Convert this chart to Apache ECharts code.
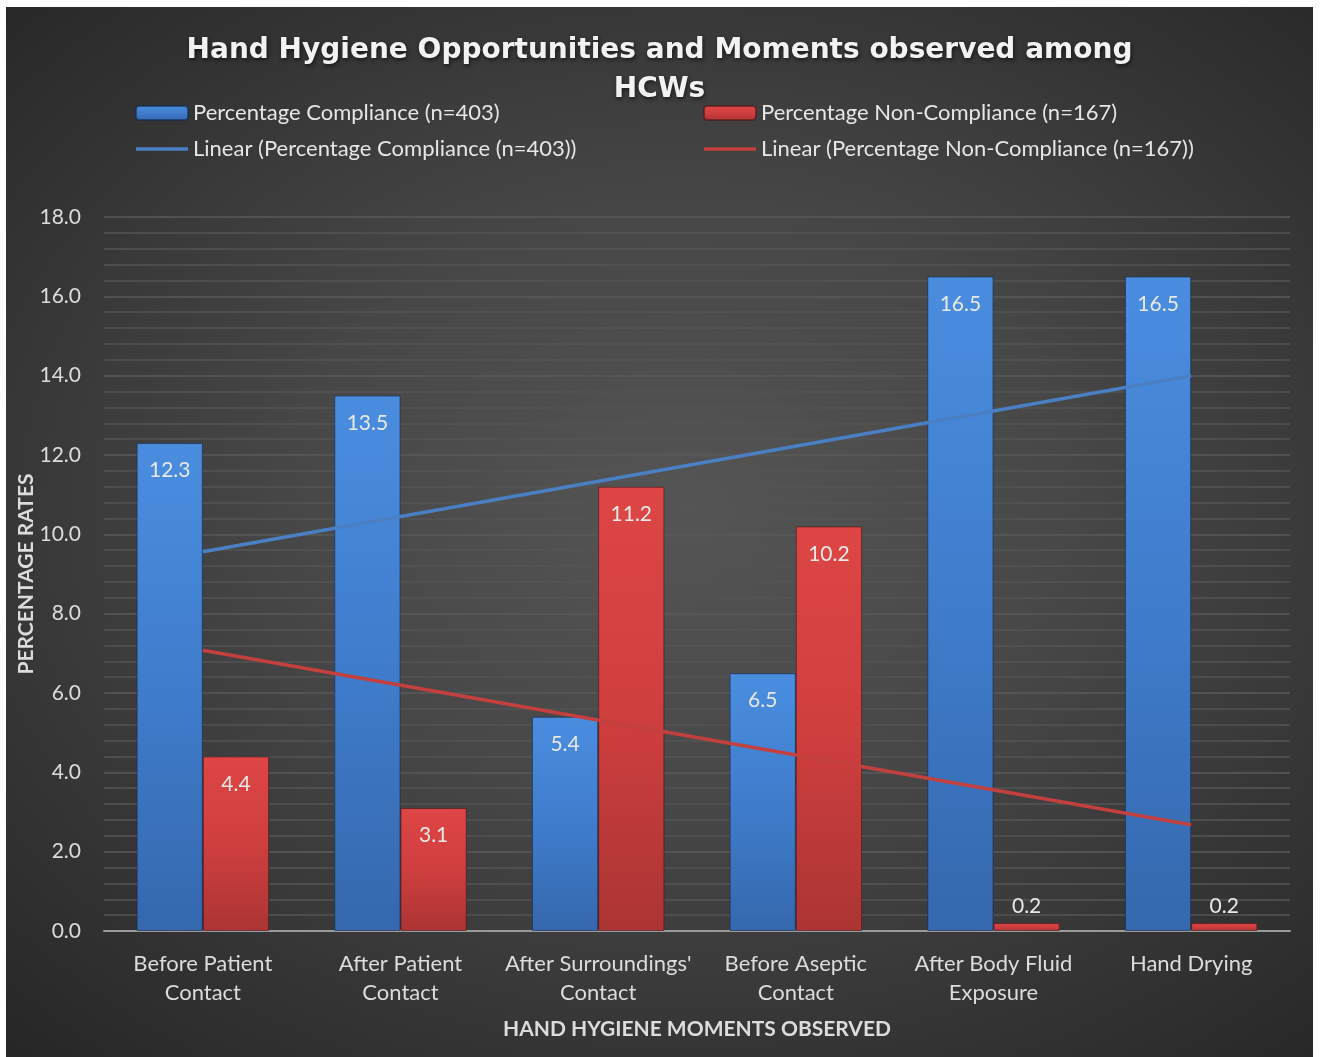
<!DOCTYPE html>
<html>
<head>
<meta charset="utf-8">
<script src="https://cdn.jsdelivr.net/npm/echarts@6/dist/echarts.min.js"></script>
<style>
html,body{margin:0;padding:0;background:#ffffff;width:1320px;height:1057px;overflow:hidden;}
#chart{position:absolute;left:6px;top:7px;width:1307px;height:1050px;
background:radial-gradient(ellipse 75% 70% at 52% 48%, #555555 0%, #474747 40%, #343434 75%, #272727 100%);}
</style>
</head>
<body>
<div id="chart"></div>
<script>
const categories = ['Before Patient\nContact', 'After Patient\nContact', "After Surroundings'\nContact", 'Before Aseptic\nContact', 'After Body Fluid\nExposure', 'Hand Drying'];
const compliance = [12.3, 13.5, 5.4, 6.5, 16.5, 16.5];
const nonCompliance = [4.4, 3.1, 11.2, 10.2, 0.2, 0.2];
// Linear trendline values read at the first and last category
const complianceTrend = [9.56, 14.0];
const nonComplianceTrend = [7.08, 2.68];
const yTicks = { min: 0, max: 18, interval: 2 };

const nameC = 'Percentage Compliance (n=403)';
const nameN = 'Percentage Non-Compliance (n=167)';
const nameCT = 'Linear (Percentage Compliance (n=403))';
const nameNT = 'Linear (Percentage Non-Compliance (n=167))';
const FONT = 'Lato';
const lineIcon = 'path://M0,0 L52,0 L52,3.5 L0,3.5 Z';

const blueGrad = new echarts.graphic.LinearGradient(0,0,0,1,[
  {offset:0,color:'#4a8ddf'},{offset:0.5,color:'#3f7dcc'},{offset:1,color:'#3568ad'}]);
const redGrad = new echarts.graphic.LinearGradient(0,0,0,1,[
  {offset:0,color:'#dd4645'},{offset:0.5,color:'#cf3f3e'},{offset:1,color:'#ab3534'}]);

function barData(vals){
  return vals.map(v => v < 1 ? {value:v, label:{position:'top', distance:6}} : v);
}
function trendData(t){
  return [[0, t[0]], [categories.length-1, t[1]]];
}

const legendText = {fontFamily:FONT, fontSize:22, color:'#e6e6e6', lineHeight:22};
const chart = echarts.init(document.getElementById('chart'), null, {renderer:'canvas'});
chart.setOption({
  backgroundColor:'transparent',
  animation:false,
  title:{
    text:'Hand Hygiene Opportunities and Moments observed among\nHCWs',
    left:'center', top:19,
    textStyle:{fontFamily:'DejaVu Sans', fontWeight:'bold', fontSize:28, lineHeight:39, color:'#f2f2f2',
      textShadowColor:'rgba(0,0,0,0.6)', textShadowBlur:4, textShadowOffsetX:1, textShadowOffsetY:2}
  },
  legend:[
    {data:[nameC, {name:nameCT, icon:lineIcon}], orient:'vertical', left:129, top:95, padding:0,
     itemWidth:52, itemHeight:14, itemGap:14, textStyle:legendText},
    {data:[nameN, {name:nameNT, icon:lineIcon}], orient:'vertical', left:697, top:95, padding:0,
     itemWidth:52, itemHeight:14, itemGap:14, textStyle:legendText}
  ],
  grid:{left:98, right:23, top:210, bottom:126, containLabel:false, outerBoundsMode:'none'},
  xAxis:{
    type:'category', data:categories,
    axisLine:{show:true, lineStyle:{color:'#9a9a9a', width:2}},
    axisTick:{show:false},
    axisLabel:{fontFamily:FONT, fontSize:22, color:'#dcdcdc', lineHeight:29, margin:18, interval:0},
    name:'HAND HYGIENE MOMENTS OBSERVED', nameLocation:'middle', nameGap:88, nameMoveOverlap:false,
    nameTextStyle:{fontFamily:FONT, fontWeight:'bold', fontSize:21, color:'#dcdcdc'}
  },
  yAxis:{
    type:'value', min:yTicks.min, max:yTicks.max, interval:yTicks.interval,
    axisLine:{show:false}, axisTick:{show:false},
    axisLabel:{fontFamily:FONT, fontSize:21, color:'#dcdcdc', margin:23, formatter:v=>v.toFixed(1)},
    splitLine:{show:true, lineStyle:{color:'#5a5a5a', width:1.5}},
    minorTick:{show:false, splitNumber:5},
    minorSplitLine:{show:true, lineStyle:{color:'#545454', width:1.5}},
    name:'PERCENTAGE RATES', nameLocation:'middle', nameGap:67, nameMoveOverlap:false,
    nameTextStyle:{fontFamily:FONT, fontWeight:'bold', fontSize:21, color:'#dcdcdc'}
  },
  series:[
    {name:nameC, type:'bar', data:barData(compliance), barGap:'0%', barCategoryGap:'33%',
     itemStyle:{color:blueGrad, borderColor:'rgba(20,40,80,0.6)', borderWidth:1},
     label:{show:true, position:'insideTop', distance:17, fontFamily:FONT, fontSize:21, color:'#e8e8e8', formatter:p=>p.value.toFixed(1)}},
    {name:nameN, type:'bar', data:barData(nonCompliance),
     itemStyle:{color:redGrad, borderColor:'rgba(80,20,20,0.6)', borderWidth:1},
     label:{show:true, position:'insideTop', distance:17, fontFamily:FONT, fontSize:21, color:'#e8e8e8', formatter:p=>(p.value).toFixed(1)}},
    {name:nameCT, type:'line', data:trendData(complianceTrend), symbol:'none', z:5,
     lineStyle:{color:'#4a7fc4', width:3.5}, itemStyle:{color:'#4a7fc4'}},
    {name:nameNT, type:'line', data:trendData(nonComplianceTrend), symbol:'none', z:5,
     lineStyle:{color:'#c4403f', width:3.5}, itemStyle:{color:'#c4403f'}}
  ]
});
</script>
</body>
</html>
